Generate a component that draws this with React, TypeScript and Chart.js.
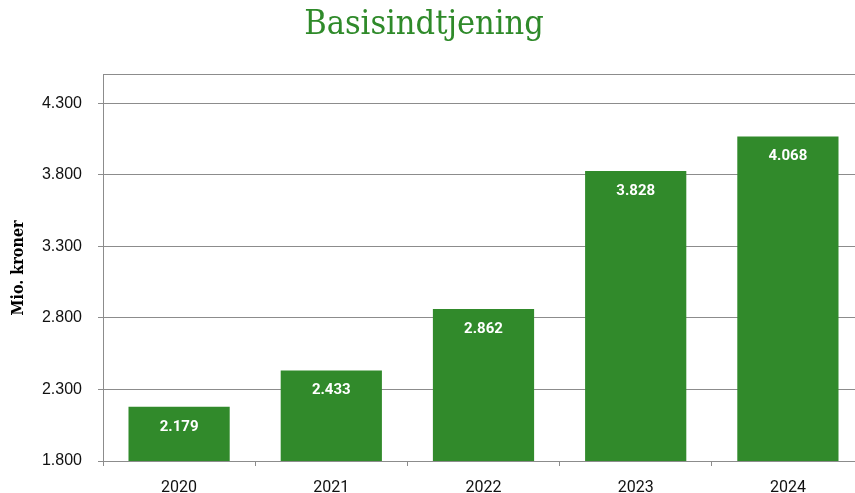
import React, { useEffect, useRef } from "react";
import { Chart, registerables } from "chart.js";

Chart.register(...registerables);

const categories = ["2020", "2021", "2022", "2023", "2024"];
const values = [2179, 2433, 2862, 3828, 4068];
const yTicks = [1800, 2300, 2800, 3300, 3800, 4300];
const yMin = 1800;
const yMax = 4500;
const chartTitle = "Basisindtjening";
const yTitle = "Mio. kroner";

const fmt = (v: number) => {
  const s = Math.round(v).toString();
  return s.replace(/\B(?=(\d{3})+(?!\d))/g, ".");
};

const GREEN = "#318a2b";
const GRID = "#8c8c8c";
const TITLE_FONT = "34px 'DejaVu Serif Condensed', 'DejaVu Serif'";

const labelPlugin = {
  id: "barLabels",
  afterDatasetsDraw(chart: any) {
    const ctx = chart.ctx;
    const meta = chart.getDatasetMeta(0);
    ctx.save();
    ctx.fillStyle = "#ffffff";
    ctx.font = "bold 15px Roboto";
    ctx.textAlign = "center";
    ctx.textBaseline = "middle";
    meta.data.forEach((bar: any, i: number) => {
      ctx.fillText(fmt(values[i]), bar.x, bar.y + 20);
    });
    ctx.restore();
  },
};

const textPlugin = {
  id: "texts",
  afterDraw(chart: any) {
    const ctx = chart.ctx;
    const area = chart.chartArea;
    ctx.save();
    ctx.fillStyle = "#2f8a2a";
    ctx.font = TITLE_FONT;
    ctx.textAlign = "center";
    ctx.textBaseline = "middle";
    ctx.fillText(chartTitle, 424, 25);
    ctx.restore();
    ctx.save();
    ctx.translate(19, (area.top + area.bottom) / 2);
    ctx.rotate(-Math.PI / 2);
    ctx.fillStyle = "#000";
    ctx.font = "bold 16px 'DejaVu Serif Condensed', 'DejaVu Serif'";
    ctx.textAlign = "center";
    ctx.textBaseline = "middle";
    ctx.fillText(yTitle, 0, 0);
    ctx.restore();
  },
};

export default function App() {
  const ref = useRef<HTMLCanvasElement>(null);
  useEffect(() => {
    if (!ref.current) return;
    const chart = new Chart(ref.current, {
      type: "bar",
      data: {
        labels: categories,
        datasets: [
          {
            data: values,
            backgroundColor: GREEN,
            borderWidth: 0,
            barPercentage: 0.665,
            categoryPercentage: 1,
          },
        ],
      },
      options: {
        animation: false,
        responsive: false,
        maintainAspectRatio: false,
        layout: { padding: { left: 0, right: 0, top: 0, bottom: 0 } },
        plugins: {
          legend: { display: false },
          tooltip: { enabled: false },
          title: {
            display: true,
            text: chartTitle,
            color: "rgba(0,0,0,0)",
            font: { family: "'DejaVu Serif Condensed', 'DejaVu Serif'", size: 34, weight: "normal" },
            padding: { top: 3, bottom: 31 },
          },
        },
        scales: {
          x: {
            afterFit(scale: any) {
              scale.height = 32;
            },
            grid: {
              display: true,
              drawOnChartArea: false,
              drawTicks: true,
              tickLength: 5,
              tickColor: GRID,
              offset: true,
            },
            border: { display: true, color: GRID, width: 1 },
            ticks: {
              color: "#111",
              font: { family: "Roboto", size: 16 },
              padding: 12,
            },
          },
          y: {
            min: yMin,
            max: yMax,
            afterFit(scale: any) {
              scale.width = 103;
            },
            afterBuildTicks(scale: any) {
              scale.ticks = [...yTicks, yMax].map((v) => ({ value: v }));
            },
            ticks: {
              color: "#111",
              font: { family: "'Liberation Sans', Arial", size: 16 },
              padding: 16,
              callback: (v: any) => (Number(v) === yMax ? "" : fmt(Number(v))),
            },
            grid: {
              color: GRID,
              lineWidth: 1,
              tickLength: 5,
              tickColor: (ctx: any) => (ctx.tick && ctx.tick.value === yMax ? "rgba(0,0,0,0)" : GRID),
            },
            border: { display: true, color: GRID, width: 1 },
            title: { display: false },
          },
        },
      },
      plugins: [labelPlugin, textPlugin],
    });
    return () => chart.destroy();
  }, []);
  return (
    <div style={{ position: "fixed", left: 0, top: 0, width: 855, height: 493, overflow: "hidden", background: "#fff" }}>
      <canvas ref={ref} width={864} height={493} style={{ display: "block", width: 864, height: 493 }} />
    </div>
  );
}
